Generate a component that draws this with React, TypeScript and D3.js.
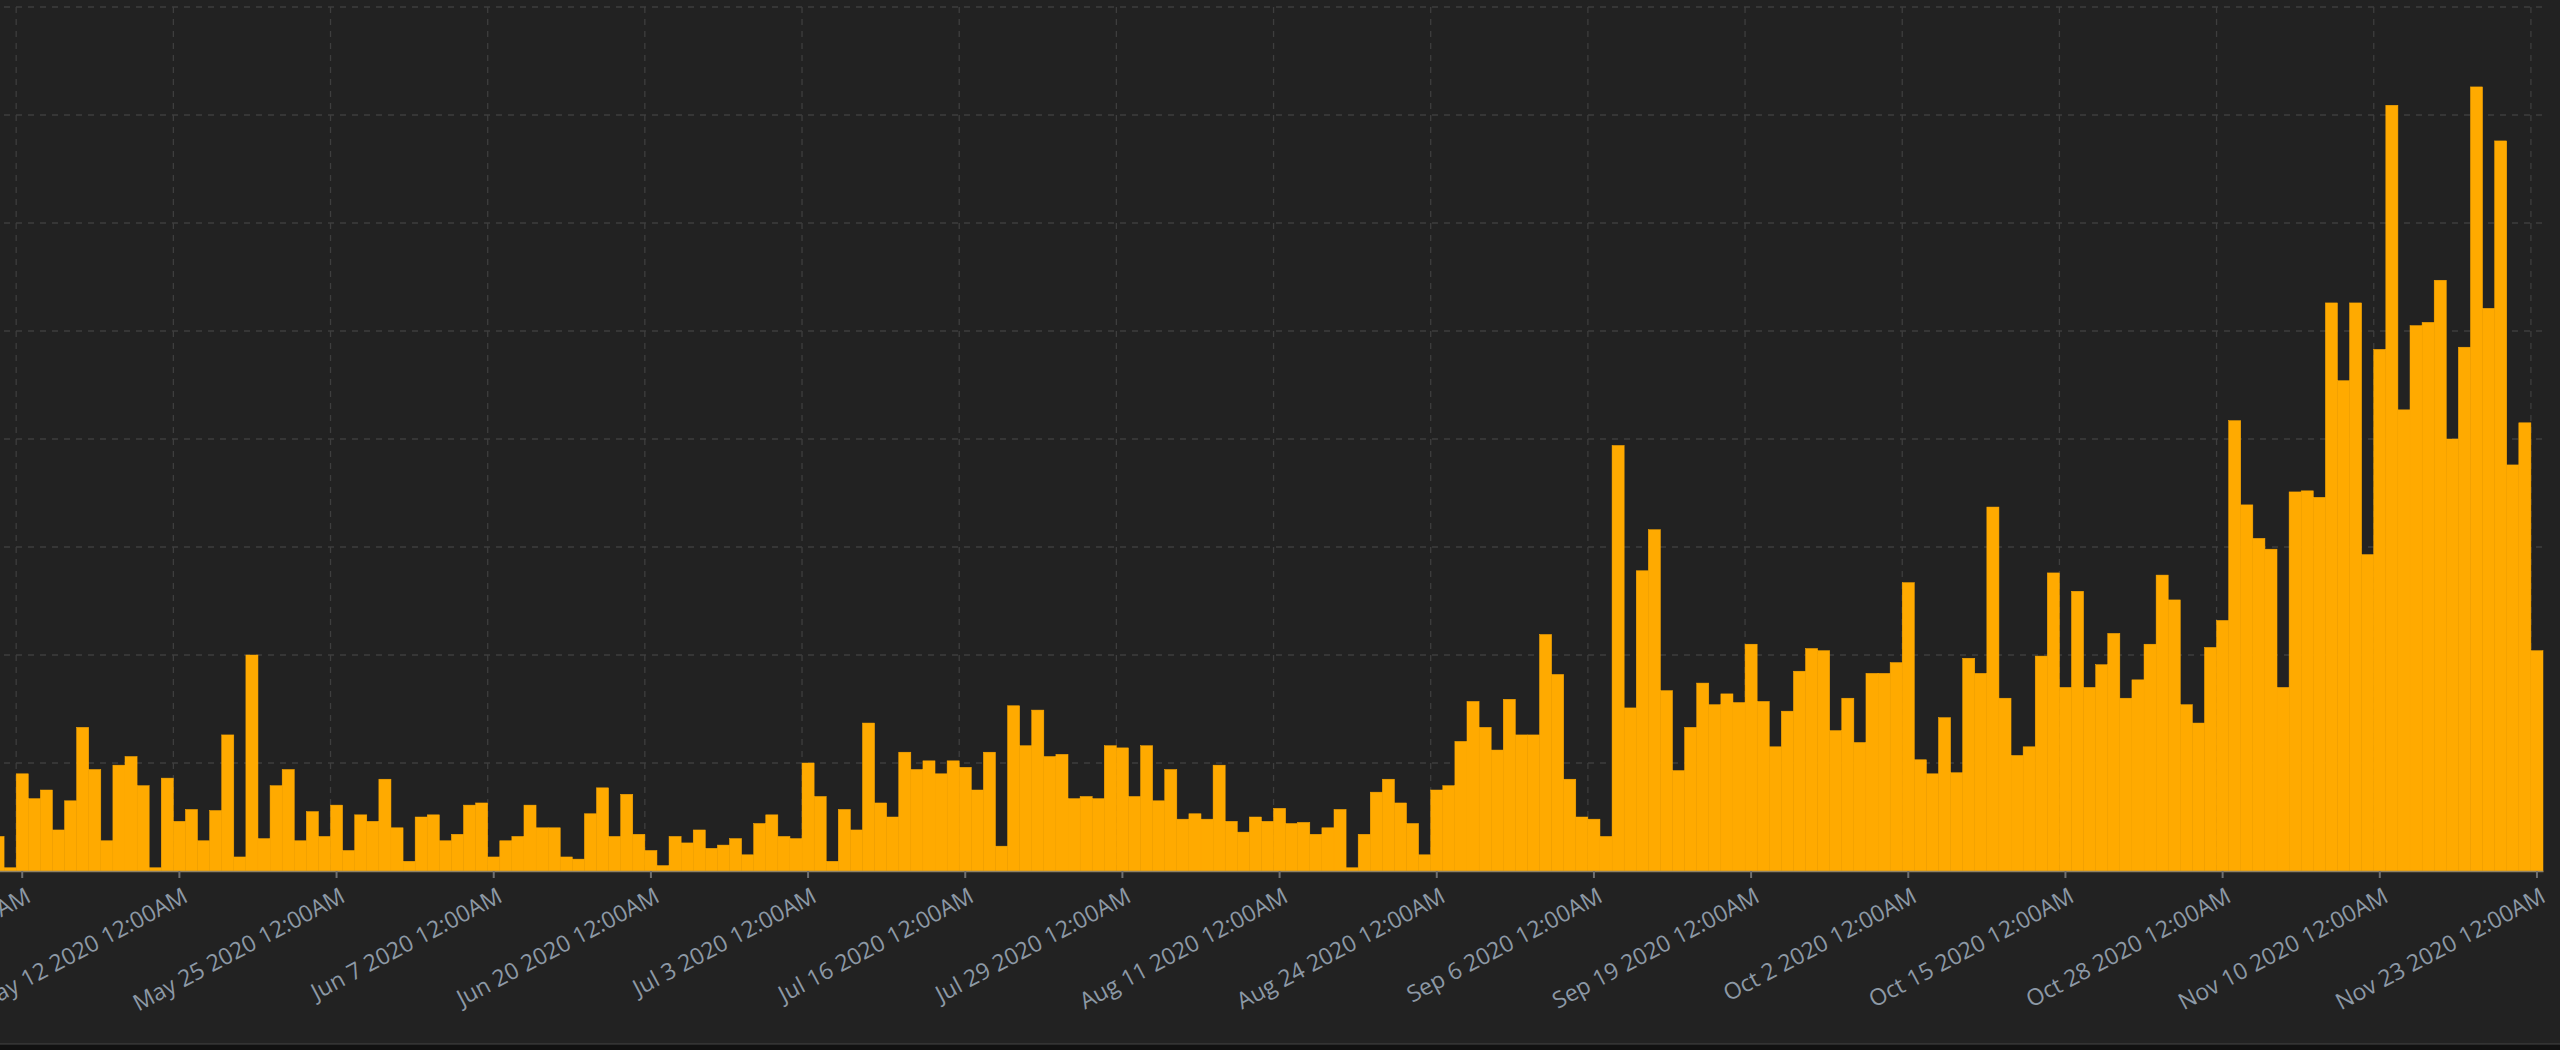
import React, { useEffect, useRef } from 'react';
import * as d3 from 'd3';

// size of the picture
const WIDTH = 2560;
const HEIGHT = 1050;

// plot margins (the left side of the chart, with its y axis, is cut off in the original)
const margin = {
  top: 7, right: 17, bottom: 179, left: -8,
};

// daily values (one gridline = 100)
const aprValues = [32, 3, 90, 67]; // Apr 27 - Apr 30
const mayValues = [75, 38, 65, 133, 94, 28, 98, 106, 79, 3, 86, 46, 57, 28, 56, 126, 13, 200, 30, 79, 94, 28, 55, 32, 61, 19, 52, 46, 85, 40, 9];
const junValues = [50, 52, 28, 34, 61, 63, 13, 28, 32, 61, 40, 40, 13, 11, 53, 77, 32, 71, 34, 19, 5, 32, 26, 38, 21, 24, 30, 15, 44, 52];
const julValues = [32, 30, 100, 69, 9, 57, 38, 137, 63, 50, 110, 94, 102, 90, 102, 96, 75, 110, 23, 153, 116, 149, 106, 108, 67, 69, 67, 116, 114, 69, 116];
const augValues = [65, 94, 48, 53, 48, 98, 46, 36, 50, 46, 58, 44, 45, 34, 40, 57, 3, 34, 73, 85, 63, 44, 15, 75, 79, 120, 157, 133, 112, 159, 126];
const sepValues = [126, 219, 182, 85, 50, 48, 32, 394, 151, 278, 316, 167, 93, 133, 174, 154, 164, 156, 210, 157, 115, 148, 185, 206, 204, 130, 160, 119, 183, 183];
const octValues = [193, 267, 103, 90, 142, 91, 197, 183, 337, 160, 107, 115, 199, 276, 170, 259, 170, 191, 220, 160, 177, 210, 274, 251, 154, 137, 207, 232, 417, 339, 308];
const novValues = [298, 170, 351, 352, 346, 526, 454, 526, 293, 483, 709, 427, 505, 508, 547, 400, 485, 726, 521, 676, 376, 415, 204]; // Nov 1 - Nov 23

const firstDay = '2020-04-27';

// x axis ticks, every 13 days
const tickDays = [
  '2020-04-29', '2020-05-12', '2020-05-25', '2020-06-07', '2020-06-20', '2020-07-03',
  '2020-07-16', '2020-07-29', '2020-08-11', '2020-08-24', '2020-09-06', '2020-09-19',
  '2020-10-02', '2020-10-15', '2020-10-28', '2020-11-10', '2020-11-23',
];

// y gridlines
const yTicks = [0, 100, 200, 300, 400, 500, 600, 700, 800];

const parseDay = d3.timeParse('%Y-%m-%d');
const formatTick = d3.timeFormat('%b %-d %Y %I:%M%p');

export default function App() {
  const svgRef = useRef(null);

  useEffect(() => {
    const values = [
      ...aprValues, ...mayValues, ...junValues, ...julValues,
      ...augValues, ...sepValues, ...octValues, ...novValues,
    ];
    const start = parseDay(firstDay);
    const days = d3.timeDay.range(start, d3.timeDay.offset(start, values.length));
    const data = days.map((d, i) => ({ date: d, value: values[i] }));
    const ticks = tickDays.map((d) => parseDay(d));

    const svg = d3.select(svgRef.current);
    svg.selectAll('*').remove();

    svg.append('rect')
      .attr('width', WIDTH)
      .attr('height', HEIGHT)
      .attr('fill', '#222222');

    const x = d3.scaleBand()
      .domain(days)
      .range([margin.left, WIDTH - margin.right])
      .padding(0);

    const y = d3.scaleLinear()
      .domain([0, 800])
      .range([HEIGHT - margin.bottom, margin.top]);

    // dashed grid
    const grid = svg.append('g')
      .attr('stroke', '#3e3e3e')
      .attr('stroke-width', 1.3)
      .attr('stroke-dasharray', '6,6');

    grid.selectAll('line.h')
      .data(yTicks.slice(1))
      .join('line')
      .attr('class', 'h')
      .attr('x1', x.range()[0])
      .attr('x2', x.range()[1])
      .attr('y1', (d) => y(d))
      .attr('y2', (d) => y(d));

    grid.selectAll('line.v')
      .data(ticks)
      .join('line')
      .attr('class', 'v')
      .attr('x1', (d) => x(d))
      .attr('x2', (d) => x(d))
      .attr('y1', y(800))
      .attr('y2', y(0));

    // bars
    svg.append('g')
      .selectAll('rect')
      .data(data)
      .join('rect')
      .attr('x', (d) => x(d.date))
      .attr('y', (d) => y(d.value))
      .attr('width', x.bandwidth())
      .attr('height', (d) => y(0) - y(d.value))
      .attr('fill', '#ffaa00')
      .attr('stroke', '#ffaa00')
      .attr('stroke-width', 0.5);

    // x axis
    const xAxis = svg.append('g')
      .attr('transform', `translate(0,${y(0)})`)
      .call(d3.axisBottom(x)
        .tickValues(ticks)
        .tickSize(7)
        .tickSizeOuter(0)
        .tickFormat((d) => formatTick(d)));

    xAxis.select('.domain')
      .attr('stroke', '#8f8266')
      .attr('stroke-width', 1.5);

    xAxis.selectAll('.tick line')
      .attr('stroke', '#6f6f6f')
      .attr('stroke-width', 2);

    xAxis.selectAll('.tick text')
      .attr('x', 0)
      .attr('y', 0)
      .attr('dy', 0)
      .attr('text-anchor', 'end')
      .attr('transform', 'translate(10,30) rotate(-28)')
      .attr('font-family', '"Segoe UI", "Open Sans", sans-serif')
      .attr('font-size', '23px')
      .attr('fill', '#8d99a6');

    // window edge at the bottom
    svg.append('rect')
      .attr('x', 0)
      .attr('y', HEIGHT - 6)
      .attr('width', WIDTH)
      .attr('height', 6)
      .attr('fill', '#111111');
    svg.append('line')
      .attr('x1', 0)
      .attr('x2', WIDTH)
      .attr('y1', HEIGHT - 6)
      .attr('y2', HEIGHT - 6)
      .attr('stroke', '#444444');
  }, []);

  return (
    <div style={{ position: 'absolute', left: 0, top: 0 }}>
      <svg ref={svgRef} width={WIDTH} height={HEIGHT} style={{ display: 'block' }} />
    </div>
  );
}
